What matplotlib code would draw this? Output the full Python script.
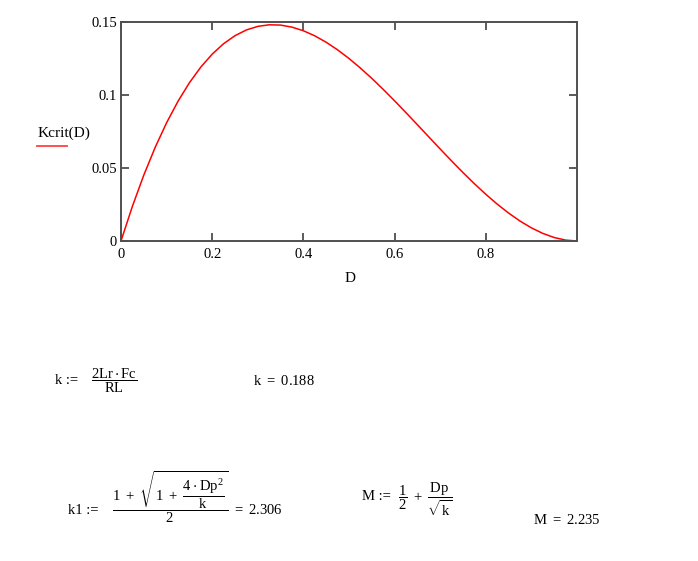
import matplotlib as mpl
import matplotlib.pyplot as plt

mpl.rcParams["font.family"] = ["Liberation Serif", "DejaVu Serif"]
mpl.rcParams["mathtext.fontset"] = "custom"
mpl.rcParams["mathtext.rm"] = "Liberation Serif"
mpl.rcParams["mathtext.it"] = "Liberation Serif"
mpl.rcParams["mathtext.default"] = "regular"

# Kcrit(D)
duty = [0.0, 0.025, 0.05, 0.075, 0.1, 0.125, 0.15, 0.175, 0.2, 0.225,
        0.25, 0.275, 0.3, 0.325, 0.35, 0.375, 0.4, 0.425, 0.45, 0.475,
        0.5, 0.525, 0.55, 0.575, 0.6, 0.625, 0.65, 0.675, 0.7, 0.725,
        0.75, 0.775, 0.8, 0.825, 0.85, 0.875, 0.9, 0.925, 0.95, 0.975, 1.0]
kcrit = [0.0, 0.02377, 0.04513, 0.06417, 0.081, 0.0957, 0.10838, 0.11911, 0.128, 0.13514,
         0.14063, 0.14455, 0.147, 0.14808, 0.14788, 0.14648, 0.144, 0.14052, 0.13613, 0.13092,
         0.125, 0.11845, 0.11138, 0.10386, 0.096, 0.08789, 0.07963, 0.0713, 0.063, 0.05483,
         0.04688, 0.03923, 0.032, 0.02527, 0.01913, 0.01367, 0.009, 0.0052, 0.00238, 0.00061, 0.0]

x_ticks = [0, 0.2, 0.4, 0.6, 0.8]
x_tick_labels = ["0", "0.2", "0.4", "0.6", "0.8"]
y_ticks = [0, 0.05, 0.1, 0.15]
y_tick_labels = ["0", "0.05", "0.1", "0.15"]

W, H = 698, 561


def put(x, y, s, **kw):
    # place text using pixel coords of the screenshot
    kw.setdefault("fontsize", 10.5)
    kw.setdefault("ha", "left")
    kw.setdefault("va", "center")
    fig.text(x / W, 1 - y / H, s, **kw)


fig = plt.figure(figsize=(W / 100, H / 100), dpi=100)
ax = fig.add_axes([121 / W, 1 - 241 / H, 456 / W, 219 / H])
ax.plot(duty, kcrit, color="#ff0000", lw=1.1)
ax.set_xlim(0, 1.0)
ax.set_ylim(0, 0.15)
ax.set_xticks(x_ticks)
ax.set_xticklabels(x_tick_labels)
ax.set_yticks(y_ticks)
ax.set_yticklabels(y_tick_labels)
ax.tick_params(direction="in", top=True, right=True, length=6, width=1.2,
               color="#404040", labelsize=10.5)
ax.tick_params(axis="x", pad=5)
ax.tick_params(axis="y", pad=3)
for s in ax.spines.values():
    s.set_color("#505050")
    s.set_linewidth(1.4)

put(350, 278, "D", fontsize=11, ha="center")
put(38, 133, "Kcrit(D)", fontsize=11)
fig.add_artist(plt.Line2D([37 / W, 67 / W], [1 - 146 / H, 1 - 146 / H],
                          color="#ff4040", lw=1.3))

# worksheet equations below the plot
put(55, 380, "k :=")
put(91, 381, r"$\dfrac{2Lr\cdot Fc}{RL}$")
put(253, 381, r"$k\ =\ 0.188$")

put(68, 511, "k1 :=")
put(112, 497, r"$\dfrac{1\ +\ \sqrt{1\ +\ \dfrac{4\cdot Dp^{2}}{k}}}{2}\ =\ 2.306$")

put(362, 496, "M :=")
put(398, 499, r"$\dfrac{1}{2}\ +\ \dfrac{Dp}{\sqrt{k}}$")
put(533, 520, r"$M\ =\ 2.235$")

fig.savefig("out.png", dpi=100)
